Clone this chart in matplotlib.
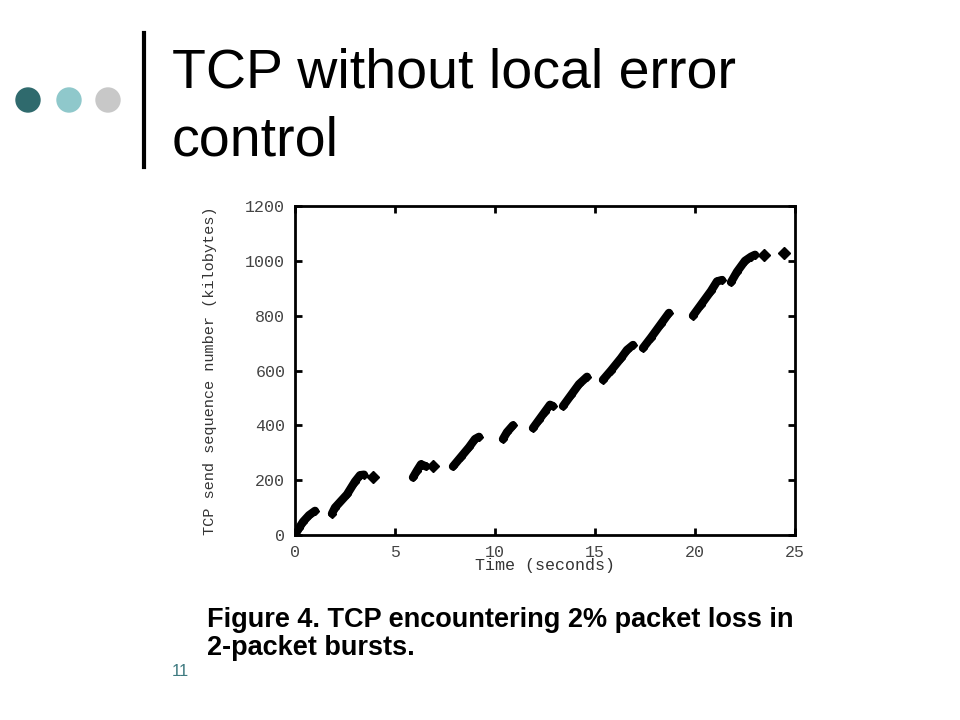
import matplotlib.pyplot as plt
from matplotlib.patches import Circle

# Bursts of packets: time (s) and sequence number (KB)
burst_times = [
    [0.0, 0.2, 0.4, 0.7, 1.0],
    [1.85, 2.0, 2.6, 3.0, 3.25, 3.45],
    [5.9, 6.1, 6.3, 6.55],
    [7.9, 8.3, 8.7, 9.0, 9.2],
    [10.4, 10.6, 10.9],
    [11.9, 12.2, 12.5, 12.75, 12.9],
    [13.4, 13.8, 14.2, 14.6],
    [15.4, 15.8, 16.3, 16.6, 16.9],
    [17.4, 17.8, 18.3, 18.7],
    [19.9, 20.3, 20.8, 21.1, 21.35],
    [21.8, 22.1, 22.5, 22.8, 23.0],
]
burst_seq = [
    [0, 25, 48, 72, 88],
    [78, 100, 148, 195, 218, 220],
    [210, 235, 258, 250],
    [250, 285, 320, 350, 358],
    [350, 375, 400],
    [390, 420, 450, 475, 470],
    [470, 510, 550, 577],
    [566, 600, 645, 675, 693],
    [682, 720, 770, 810],
    [800, 840, 890, 925, 930],
    [922, 960, 1000, 1015, 1022],
]
# single retransmitted packets
lone_times = [3.9, 6.9, 23.45, 24.45]
lone_seq = [212, 252, 1022, 1027]

x_ticks = [0, 5, 10, 15, 20, 25]
y_ticks = [0, 200, 400, 600, 800, 1000, 1200]

fig = plt.figure(figsize=(9.6, 7.2), dpi=100)
fig.patch.set_facecolor('white')

# slide decoration (pixel coords, y down)
deco = fig.add_axes([0, 0, 1, 1])
deco.set_xlim(0, 960)
deco.set_ylim(720, 0)
deco.axis('off')
for cx, col in zip([28, 69, 108], ['#2f6a6d', '#8fc8cb', '#c8c8c8']):
    deco.add_patch(Circle((cx, 100), 12, color=col))
deco.plot([144, 144], [33, 167], color='black', lw=3)

deco.text(172, 87, 'TCP without local error', fontsize=40,
          family='Liberation Sans', va='baseline', ha='left')
deco.text(172, 155, 'control', fontsize=40,
          family='Liberation Sans', va='baseline', ha='left')
deco.text(207, 627, 'Figure 4. TCP encountering 2% packet loss in',
          fontsize=19.5, family='Liberation Sans', weight='bold',
          va='baseline', ha='left')
deco.text(207, 655, '2-packet bursts.', fontsize=19.5,
          family='Liberation Sans', weight='bold', va='baseline', ha='left')
deco.text(172, 672, '11', fontsize=12, family='Liberation Sans',
          color='#3e7a80', va='center', ha='left')

ax = fig.add_axes([295 / 960, 1 - 535 / 720, 500 / 960, 329 / 720])
for t, s in zip(burst_times, burst_seq):
    ax.plot(t, s, color='black', lw=6, marker='D', ms=4,
            solid_capstyle='round', solid_joinstyle='round')
ax.plot(lone_times, lone_seq, 'D', color='black', ms=6.5, ls='none')

ax.set_xlim(0, 25)
ax.set_ylim(0, 1200)
ax.set_xticks(x_ticks)
ax.set_yticks(y_ticks)
for sp in ax.spines.values():
    sp.set_linewidth(2)
ax.tick_params(direction='in', length=5, width=2, top=True, right=True,
               labelsize=12, labelcolor='#444444', pad=7)
for lab in ax.get_xticklabels() + ax.get_yticklabels():
    lab.set_family('Liberation Mono')

ax.set_xlabel('Time (seconds)', family='Liberation Mono', fontsize=12,
              color='#333333', va='center')
ax.set_ylabel('TCP send sequence number (kilobytes)', family='Liberation Mono',
              fontsize=11, color='#333333', va='center')
ax.xaxis.set_label_coords(0.5, -0.092)
ax.yaxis.set_label_coords(-0.17, 0.5)

fig.savefig('out.png', dpi=100)
